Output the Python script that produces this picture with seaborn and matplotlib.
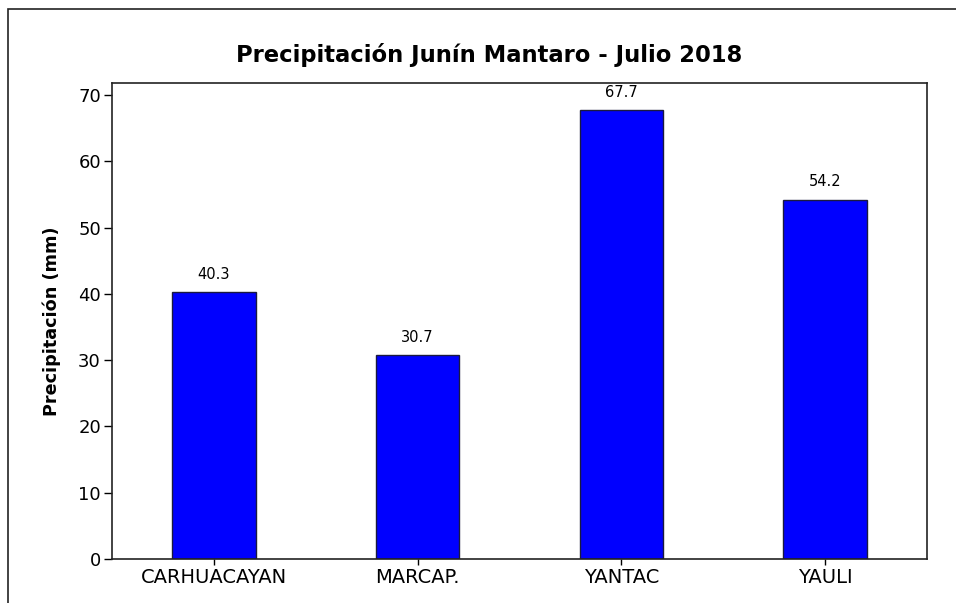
import matplotlib
matplotlib.use("Agg")
import matplotlib.pyplot as plt
import seaborn as sns
import pandas as pd
from matplotlib.patches import Rectangle

estaciones = ["CARHUACAYAN", "MARCAP.", "YANTAC", "YAULI"]
precipitacion = [40.3, 30.7, 67.7, 54.2]
yticks = [0, 10, 20, 30, 40, 50, 60, 70]

sns.set_theme(style="white")
plt.rcParams['font.family'] = ['DejaVu Sans']
plt.rcParams['text.color'] = 'black'
plt.rcParams['axes.labelcolor'] = 'black'
plt.rcParams['xtick.color'] = 'black'
plt.rcParams['ytick.color'] = 'black'

df = pd.DataFrame({"Estación": estaciones, "Precipitación": precipitacion})

fig = plt.figure(figsize=(9.56, 6.03), dpi=100)
ax = fig.add_axes([112/956, 1 - 559/603, (927-112)/956, (559-83)/603])

sns.barplot(data=df, x="Estación", y="Precipitación", color="#0000FF",
            saturation=1, width=0.41, edgecolor="#1a1a40", linewidth=1.0, ax=ax)

for i, v in enumerate(precipitacion):
    ax.text(i, v + 2.0, f"{v:.1f}", ha="center", va="baseline", fontsize=10.5, color="black")

ax.set_xlim(-0.5, 3.5)
ax.set_ylim(0, 71.8)
ax.set_yticks(yticks)
ax.set_yticklabels([str(t) for t in yticks], fontsize=13)
ax.tick_params(axis="x", labelsize=14, length=4.5, width=1, color="black", direction="out", bottom=True, pad=2)
ax.tick_params(axis="y", length=6, width=1, color="black", direction="out", left=True, pad=2)
ax.set_xlabel("")
ax.set_ylabel("Precipitación (mm)", fontsize=12.7, fontweight="bold", labelpad=12)
for s in ax.spines.values():
    s.set_color("#222222")
    s.set_linewidth(1.2)

fig.text(489/956, 1 - 55/603, "Precipitación Junín Mantaro - Julio 2018",
         ha="center", va="center", fontsize=16.3, fontweight="bold", color="black")

fig.patches.append(Rectangle((8/956, -0.1), 1.2, 1 - 9/603 + 0.1, transform=fig.transFigure,
                             fill=False, edgecolor="#222222", linewidth=1.2))

fig.savefig("out.png", dpi=100)
